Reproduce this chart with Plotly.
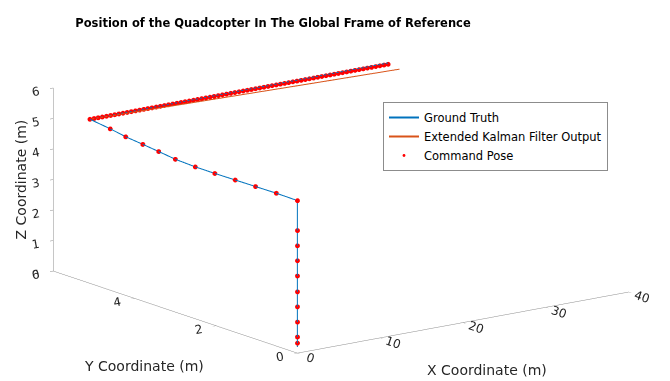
import plotly.graph_objects as go

# ---------------- data ----------------
# Ground truth trajectory (m)
gt_x = [0, 0, 0, 0, 0, 0, 0, 0, 0, 0, 0, 0, 0, 0, 0, 0, 0, 0, 0, 0, 0, 0, 36.0]
gt_y = [0, 0, 0, 0.52, 1.03, 1.53, 2.03, 2.51, 3.0, 3.41, 3.80, 4.22, 4.60, 5.1,
        5.1, 5.1, 5.1, 5.1, 5.1, 5.1, 5.1, 5.1, 5.1]
gt_z = [0.2, 2.5, 5.0, 5.01, 5.0, 4.99, 4.98, 4.98, 5.01, 5.08, 5.14, 5.2, 5.29, 5.38,
        5.38, 5.38, 5.38, 5.38, 5.38, 5.38, 5.38, 5.38, 5.42]

# Extended Kalman filter output (m)
ekf_x = [0, 0, 0, 0, 0, 0, 0, 0, 0, 0, 0, 0, 0, 0, 9.0, 18.0, 27.0, 36.6]
ekf_y = [0, 0, 0, 0.52, 1.03, 1.53, 2.03, 2.51, 3.0, 3.41, 3.80, 4.22, 4.60, 5.1,
         5.06, 5.02, 4.98, 4.94]
ekf_z = [0.2, 2.5, 5.0, 5.01, 5.0, 4.99, 4.98, 4.98, 5.01, 5.08, 5.14, 5.2, 5.29, 5.38,
         5.35, 5.32, 5.29, 5.26]

# Command poses (m)
cmd_vert_z = [0.33, 0.53, 1.02, 1.52, 2.01, 2.53, 3.03, 3.52, 4.02, 5.0]
cmd_diag_y = [0.52, 1.03, 1.53, 2.03, 2.51, 3.0, 3.41, 3.80, 4.22, 4.60]
cmd_diag_z = [5.01, 5.0, 4.99, 4.98, 4.98, 5.01, 5.08, 5.14, 5.2, 5.29]
cmd_line_x = [0.0, 0.5, 1.0, 1.5, 2.0, 2.5, 3.0, 3.5, 4.0, 4.5, 5.0, 5.5, 6.0, 6.5,
              7.0, 7.5, 8.0, 8.5, 9.0, 9.5, 10.0, 10.5, 11.0, 11.5, 12.0, 12.5,
              13.0, 13.5, 14.0, 14.5, 15.0, 15.5, 16.0, 16.5, 17.0, 17.5, 18.0,
              18.5, 19.0, 19.5, 20.0, 20.5, 21.0, 21.5, 22.0, 22.5, 23.0, 23.5,
              24.0, 24.5, 25.0, 25.5, 26.0, 26.5, 27.0, 27.5, 28.0, 28.5, 29.0,
              29.5, 30.0, 30.5, 31.0, 31.5, 32.0, 32.5, 33.0, 33.5, 34.0, 34.5,
              35.0, 35.5, 36.0]
cmd_line_y = 5.1
cmd_line_z = 5.38

cmd_x = [0] * len(cmd_vert_z) + [0] * len(cmd_diag_y) + cmd_line_x
cmd_y = [0] * len(cmd_vert_z) + cmd_diag_y + [cmd_line_y] * len(cmd_line_x)
cmd_z = cmd_vert_z + cmd_diag_z + [cmd_line_z] * len(cmd_line_x)

x_ticks = [0, 10, 20, 30, 40]
y_ticks = [0, 2, 4, 6]
z_ticks = [0, 1, 2, 3, 4, 5, 6]

# ---------------- figure ----------------
BLUE = "#0072BD"
ORANGE = "#D95319"
FONT = "DejaVu Sans"
TXT = "#262626"
S = 2.30
E = 6.0

fig = go.Figure()
fig.add_trace(go.Scatter3d(x=ekf_x, y=ekf_y, z=ekf_z, mode="lines",
                           name="Extended Kalman Filter Output", legendrank=2,
                           line=dict(color=ORANGE, width=2)))
fig.add_trace(go.Scatter3d(x=gt_x, y=gt_y, z=gt_z, mode="lines", name="Ground Truth",
                           legendrank=1, line=dict(color=BLUE, width=2)))
fig.add_trace(go.Scatter3d(x=cmd_x, y=cmd_y, z=cmd_z, mode="markers", name="Command Pose",
                           legendrank=3,
                           marker=dict(color="#FF0000", size=2.8, line=dict(width=0))))

axis_common = dict(showbackground=False, showgrid=False, zeroline=False,
                   showline=True, linecolor="#8c8c8c", linewidth=1,
                   ticks="outside", ticklen=4, tickcolor="#8c8c8c",
                   tickfont=dict(family=FONT, size=12, color=TXT),
                   showspikes=False, title=dict(text=""))

title_font = dict(family=FONT, size=14, color=TXT)

fig.update_layout(
    width=670, height=381,
    margin=dict(l=0, r=0, t=0, b=0),
    paper_bgcolor="white",
    font=dict(family=FONT, color=TXT),
    title=dict(text="Position of the Quadcopter In The Global Frame of Reference",
               x=265 / 670, xanchor="center", y=1 - 15 / 381, yanchor="middle",
               font=dict(family=FONT, size=11.5, weight="bold", color="#000000")),
    scene=dict(
        domain=dict(x=[0.0037, 0.9917], y=[0.0446, 1.0]),
        xaxis=dict(range=[0, 40], tickvals=x_ticks, **axis_common),
        yaxis=dict(range=[0, 6], tickvals=y_ticks, **axis_common),
        zaxis=dict(range=[0, 6], tickvals=z_ticks, **axis_common),
        aspectmode="manual",
        aspectratio=dict(x=0.985 * S, y=0.98 * S, z=0.4515 * S),
        camera=dict(projection=dict(type="orthographic"),
                    up=dict(x=0, y=0, z=1),
                    center=dict(x=0, y=0, z=0),
                    eye=dict(x=-0.5765 * E, y=-0.7783 * E, z=0.2491 * E)),
    ),
    legend=dict(x=375 / 670, y=1 - 94 / 381, xanchor="left", yanchor="top",
                bgcolor="white", bordercolor="#8c8c8c", borderwidth=1,
                font=dict(family=FONT, size=11.5, color="#000000"),
                itemwidth=30, tracegroupgap=0),
    showlegend=True,
    annotations=[
        dict(text="X Coordinate (m)", x=478.7 / 670, y=1 - 361.5 / 381, xref="paper",
             yref="paper", xanchor="center", yanchor="middle", showarrow=False,
             font=title_font),
        dict(text="Y Coordinate (m)", x=136 / 670, y=1 - 358.2 / 381, xref="paper",
             yref="paper", xanchor="center", yanchor="middle", showarrow=False,
             font=title_font),
        dict(text="Z Coordinate (m)", x=12 / 670, y=1 - 171.5 / 381, xref="paper",
             yref="paper", xanchor="center", yanchor="middle", showarrow=False,
             textangle=-90, font=title_font),
    ],
)

fig.write_html("out.html")
